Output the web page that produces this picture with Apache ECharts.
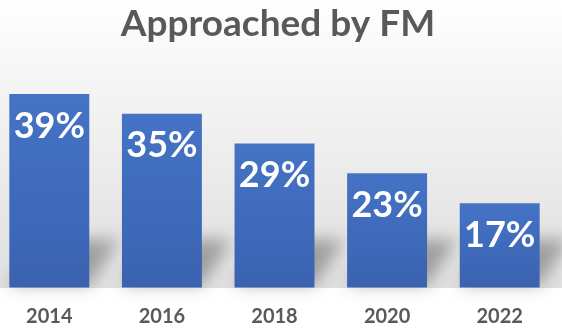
<!DOCTYPE html>
<html>
<head>
<meta charset="utf-8">
<style>
  html, body { margin: 0; padding: 0; background: #ffffff; }
  #chart { width: 562px; height: 332px; }
</style>
<script src="https://cdn.jsdelivr.net/npm/echarts@6/dist/echarts.min.js"></script>
</head>
<body>
<div id="chart"></div>
<script>
// Share of respondents approached by FM, by survey year
const years = ['2014', '2016', '2018', '2020', '2022'];
const approachedPct = [39, 35, 29, 23, 17];

const chart = echarts.init(document.getElementById('chart'), null, { renderer: 'canvas' });

const FONT = 'Lato, "Open Sans", "Noto Sans", sans-serif';
const BAR_RATIO = 0.71;
const SHIFT = 2000; // shape is drawn off-canvas; only its blurred shadow lands on the chart

// Soft floor shadow cast up and to the right of each bar
function renderShadow(params, api) {
  const i = api.value(0);
  const bottom = api.coord([i, 0]);
  const top = api.coord([i, api.value(1)]);
  const band = api.size([1, 0])[0];
  const half = band * BAR_RATIO / 2;
  const xl = bottom[0] - half;
  const xr = bottom[0] + half;
  const yb = bottom[1] - 2;
  const h = Math.min(46, yb - top[1]);
  const dx = 30;
  return {
    type: 'polygon',
    shape: {
      points: [
        [xl - SHIFT, yb], [xr - SHIFT, yb],
        [xr + dx - SHIFT, yb - h], [xl + dx - SHIFT, yb - h]
      ]
    },
    style: {
      fill: '#000000',
      shadowBlur: 16,
      shadowColor: 'rgba(0,0,0,0.30)',
      shadowOffsetX: SHIFT,
      shadowOffsetY: 0
    }
  };
}

chart.setOption({
  backgroundColor: '#ffffff',
  animation: false,
  title: {
    text: 'Approached by FM',
    left: 273,
    textAlign: 'center',
    top: 1,
    textStyle: {
      fontFamily: FONT,
      fontWeight: 'bold',
      fontSize: 37,
      color: '#595959'
    }
  },
  graphic: [{
    type: 'rect',
    z: -10,
    silent: true,
    shape: { x: 0, y: 0, width: 562, height: 288 },
    style: {
      fill: new echarts.graphic.LinearGradient(0, 0, 0, 1, [
        { offset: 0, color: '#ffffff' },
        { offset: 0.25, color: '#f6f6f6' },
        { offset: 0.8, color: '#e5e5e5' },
        { offset: 1, color: '#e0e0e0' }
      ])
    }
  }],
  grid: { left: -7, right: 6, top: 89, bottom: 44.5, outerBoundsMode: 'none' },
  xAxis: {
    type: 'category',
    data: years,
    axisLine: { show: false },
    axisTick: { show: false },
    axisLabel: {
      margin: 19,
      fontFamily: FONT,
      fontWeight: 'bold',
      fontSize: 20,
      color: '#595959'
    }
  },
  yAxis: {
    type: 'value',
    min: 0,
    max: 40,
    show: false,
    splitLine: { show: false }
  },
  series: [
    {
      type: 'custom',
      renderItem: renderShadow,
      data: approachedPct.map((v, i) => [i, v]),
      encode: { x: 0, y: 1 },
      clip: false,
      z: 1,
      silent: true
    },
    {
      type: 'bar',
      data: approachedPct,
      barWidth: (BAR_RATIO * 100) + '%',
      z: 3,
      itemStyle: {
        color: new echarts.graphic.LinearGradient(0, 0, 0, 1, [
          { offset: 0, color: '#4573c5' },
          { offset: 1, color: '#3a62b1' }
        ])
      },
      label: {
        show: true,
        position: ['50%', 32],
        align: 'center',
        verticalAlign: 'middle',
        formatter: p => p.value + '%',
        fontFamily: FONT,
        fontWeight: 'bold',
        fontSize: 36,
        color: '#ffffff'
      }
    }
  ]
});
</script>
</body>
</html>
